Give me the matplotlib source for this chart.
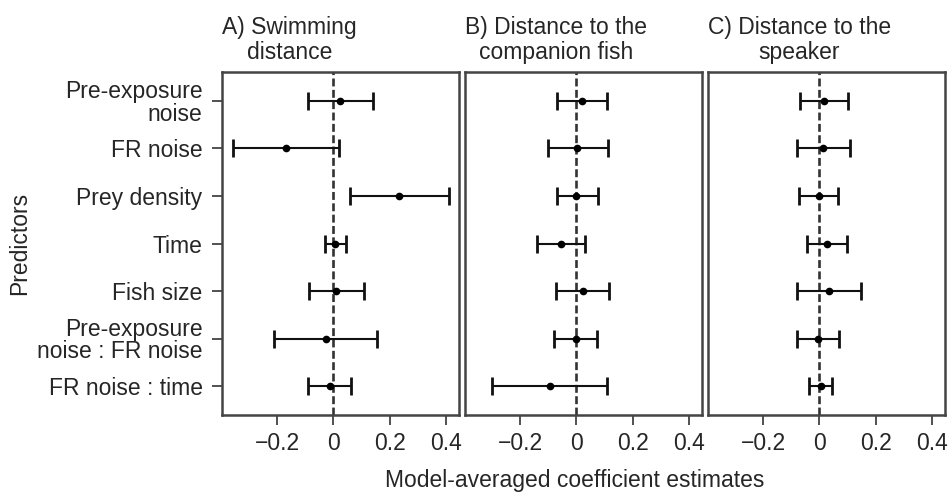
import matplotlib
matplotlib.use("Agg")
import matplotlib.pyplot as plt

plt.rcParams['font.family'] = ['Liberation Sans', 'DejaVu Sans']
plt.rcParams['font.size'] = 16.5
plt.rcParams['text.color'] = '#262626'
plt.rcParams['xtick.color'] = '#333333'
plt.rcParams['ytick.color'] = '#333333'
plt.rcParams['xtick.labelcolor'] = '#262626'
plt.rcParams['ytick.labelcolor'] = '#262626'

# predictors, top to bottom
predictors = ["Pre-exposure\nnoise", "FR noise", "Prey density", "Time",
              "Fish size", "Pre-exposure\nnoise : FR noise", "FR noise : time"]

titles = ["A) Swimming\ndistance", "B) Distance to the\ncompanion fish",
          "C) Distance to the\nspeaker"]

# A) swimming distance
swim_est = [0.023, -0.169, 0.233, 0.005, 0.010, -0.027, -0.014]
swim_lo = [-0.092, -0.358, 0.057, -0.029, -0.086, -0.211, -0.092]
swim_hi = [0.139, 0.021, 0.411, 0.044, 0.110, 0.154, 0.063]

# B) distance to the companion fish
comp_est = [0.018, 0.002, 0.000, -0.056, 0.023, -0.002, -0.094]
comp_lo = [-0.070, -0.101, -0.069, -0.139, -0.071, -0.079, -0.299]
comp_hi = [0.107, 0.113, 0.075, 0.031, 0.117, 0.073, 0.110]

# C) distance to the speaker
spk_est = [0.017, 0.014, -0.001, 0.026, 0.033, -0.005, 0.004]
spk_lo = [-0.070, -0.079, -0.072, -0.046, -0.080, -0.079, -0.037]
spk_hi = [0.102, 0.110, 0.067, 0.099, 0.148, 0.071, 0.045]

xticks = [-0.2, 0, 0.2, 0.4]
xticklabels = ["\u22120.2", "0", "0.2", "0.4"]

panels = [(swim_est, swim_lo, swim_hi),
          (comp_est, comp_lo, comp_hi),
          (spk_est, spk_lo, spk_hi)]

fig = plt.figure(figsize=(9.51, 4.93), dpi=100)
lefts = [222, 465, 708]
W, H = 951.0, 493.0
ypos = list(range(len(predictors), 0, -1))

for i, (est, lo, hi) in enumerate(panels):
    ax = fig.add_axes([lefts[i] / W, 1 - 415 / H, 237 / W, 343 / H])
    xerr = [[e - l for e, l in zip(est, lo)], [h - e for e, h in zip(est, hi)]]
    ax.axvline(0, color='#333333', lw=1.9, linestyle=(0, (3.0, 1.3)), zorder=1)
    ax.errorbar(est, ypos, xerr=xerr, fmt='o', color='black', ecolor='#111111',
                elinewidth=1.5, capsize=6.5, capthick=2.0, markersize=4.5, zorder=3)
    ax.set_xlim(-0.396, 0.446)
    ax.set_ylim(0.39, 7.61)
    ax.set_xticks(xticks)
    ax.set_xticklabels(xticklabels)
    ax.tick_params(axis='x', length=7, width=1.2, pad=5)
    if i == 0:
        ax.set_yticks(ypos)
        ax.set_yticklabels(predictors, linespacing=0.95, multialignment='right')
        ax.tick_params(axis='y', length=7, width=1.2, pad=7)
    else:
        ax.set_yticks([])
    for s in ax.spines.values():
        s.set_linewidth(1.8)
        s.set_color('#444444')
    ax.text(0.0, 1.022, titles[i], transform=ax.transAxes, ha='left',
            va='bottom', multialignment='center', linespacing=1.12)

fig.text(20 / W, 1 - 243 / H, "Predictors", rotation=90, ha='center', va='center')
fig.text(575 / W, 1 - 481 / H, "Model-averaged coefficient estimates",
         ha='center', va='center')

fig.savefig("out.png", dpi=100, facecolor='white')
